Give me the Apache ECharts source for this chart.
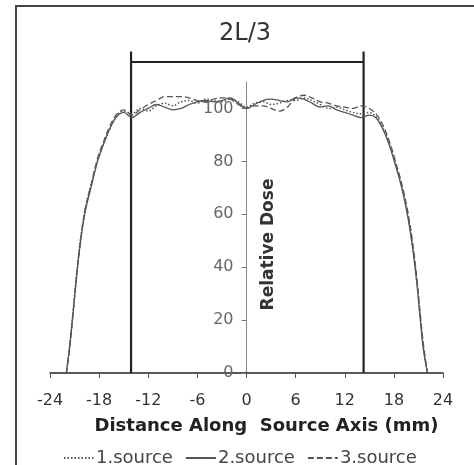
<!DOCTYPE html>
<html>
<head>
<meta charset="utf-8">
<script src="https://cdn.jsdelivr.net/npm/echarts@6/dist/echarts.min.js"></script>
<style>
  html, body { margin: 0; padding: 0; background: #fff; }
  #root { width: 474px; height: 465px; }
</style>
</head>
<body>
<div id="root"></div>
<script>
// distance along source axis (mm)
const positions = [-22, -21.6, -21.2, -20.8, -20.3, -19.7, -19, -18.2, -17.4, -16.6, -15.8, -15,
  -14, -13, -12, -11, -10, -9, -8, -7, -6, -5, -4, -3, -2, -1, 0,
  1, 2, 3, 4, 5, 6, 7, 8, 9, 10, 11, 12, 13, 14,
  15, 15.8, 16.6, 17.4, 18.2, 19, 19.7, 20.3, 20.8, 21.2, 21.6, 22.1]

// relative dose, one list per source
const source1 = [0, 10, 23, 36, 50, 62, 71, 80, 87, 93, 97.5, 99,
  98, 100, 99, 101, 102, 101, 102.5, 103, 102, 103.5, 103, 102.5, 103.5, 102.5, 100.5,
  102, 102.5, 101.5, 102, 103, 103, 104, 103, 101.5, 100, 100.5, 99.5, 98.5, 98,
  98.5, 97, 93, 87, 79, 70, 60, 48, 35, 22, 10, 0]
const source2 = [0, 10, 22, 35, 49, 61, 70, 80, 87, 93, 97, 98.5,
  96.5, 98.5, 100, 101.5, 100.5, 99.5, 100, 101.5, 102.5, 103, 102.5, 103, 104, 102, 100,
  101.5, 103, 103.5, 103, 102.5, 104, 103.5, 102, 100.5, 101, 99.5, 98.5, 97.5, 96.5,
  97.5, 96.5, 92.5, 86.5, 78.5, 69.5, 59, 47, 34, 21, 9, 0]
const source3 = [0, 9, 22, 35, 49, 62, 71, 81, 88, 94, 98, 99.5,
  97.5, 99.5, 101.5, 103, 104.5, 104.5, 104.5, 104, 103, 102.5, 103.5, 104, 103.5, 101.5, 100,
  101, 101, 100, 99, 100.5, 104, 105, 104, 102.5, 102, 101, 100.5, 100, 101,
  100, 98, 94, 88, 80, 71, 61, 49, 36, 23, 11, 0]

const seriesNames = ['1.source', '2.source', '3.source']
const xTicks = [-24, -18, -12, -6, 0, 6, 12, 18, 24]
const yTicks = [0, 20, 40, 60, 80, 100]

// 2L/3 bracket
const bracketX = [-14.1, 14.3]
const bracketTop = 121.5
const bracketBar = 117.6

const FONT = 'DejaVu Sans'
const GRID_LEFT = 50
const GRID_RIGHT = 31

function pairs (ys) {
  return positions.map((x, i) => [x, ys[i]])
}

const chart = echarts.init(document.getElementById('root'))

const curveStyles = [
  { type: [1.5, 2], width: 1.5 },
  { type: 'solid', width: 1.3 },
  { type: [6, 3], width: 1.3 }
]

const curves = [source1, source2, source3].map((ys, i) => ({
  name: seriesNames[i],
  type: 'line',
  data: pairs(ys),
  symbol: 'none',
  smooth: 0.35,
  lineStyle: Object.assign({ color: '#555' }, curveStyles[i]),
  itemStyle: { color: '#555' },
  z: 3
}))

const bracketLine = (data, width) => ({
  type: 'line',
  data: data,
  symbol: 'none',
  clip: false,
  silent: true,
  lineStyle: { color: '#222', width: width },
  z: 2
})

// pixel shift that puts the y axis on x = 0
const plotWidth = 474 - GRID_LEFT - GRID_RIGHT
const yAxisShift = plotWidth / 2

const option = {
  animation: false,
  title: {
    text: '2L/3',
    left: 240,
    textAlign: 'center',
    top: 17,
    textStyle: { fontFamily: FONT, fontSize: 24, fontWeight: 'normal', color: '#333' }
  },
  legend: {
    data: seriesNames,
    left: 58,
    top: 444,
    itemWidth: 30,
    itemHeight: 12,
    itemGap: 12,
    itemStyle: { opacity: 0 },
    textStyle: { fontFamily: FONT, fontSize: 18, color: '#444', padding: [0, 0, 0, -3] }
  },
  grid: { left: GRID_LEFT, right: GRID_RIGHT, top: 82, bottom: 92, outerBoundsMode: 'none', containLabel: false },
  xAxis: {
    type: 'value',
    min: -24,
    max: 24,
    interval: 6,
    splitLine: { show: false },
    axisLine: { onZero: false, lineStyle: { color: '#222', width: 1.5 } },
    axisTick: { show: true, length: 5, lineStyle: { color: '#555' } },
    axisLabel: {
      margin: 20,
      fontFamily: FONT,
      fontSize: 16,
      color: '#333',
      formatter: v => xTicks.includes(v) ? String(v) : ''
    },
    name: 'Distance Along  Source Axis (mm)',
    nameLocation: 'middle',
    nameGap: 44,
    nameMoveOverlap: false,
    nameTextStyle: { fontFamily: FONT, fontSize: 18, fontWeight: 'bold', color: '#222', padding: [0, 0, 0, 40] }
  },
  yAxis: {
    type: 'value',
    min: 0,
    max: 110,
    interval: 20,
    offset: -yAxisShift,
    splitLine: { show: false },
    axisLine: { onZero: false, lineStyle: { color: '#888', width: 1 } },
    axisTick: { show: true, length: 5, customValues: yTicks, lineStyle: { color: '#777' } },
    axisLabel: {
      margin: 13,
      customValues: yTicks,
      fontFamily: FONT,
      fontSize: 16,
      color: '#666'
    },
    name: 'Relative Dose',
    nameLocation: 'middle',
    nameRotate: 90,
    nameGap: -31,
    nameMoveOverlap: false,
    nameTextStyle: { fontFamily: FONT, fontSize: 17, fontWeight: 'bold', color: '#333', padding: [0, 34, 0, 0] }
  },
  graphic: [{
    type: 'rect',
    shape: { x: 16, y: 6, width: 520, height: 520 },
    style: { fill: 'none', stroke: '#444', lineWidth: 2 },
    silent: true
  }],
  series: [
    bracketLine([[bracketX[0], 0], [bracketX[0], bracketTop]], 2.2),
    bracketLine([[bracketX[1], 0], [bracketX[1], bracketTop]], 2.2),
    bracketLine([[bracketX[0], bracketBar], [bracketX[1], bracketBar]], 2),
    ...curves
  ]
}

chart.setOption(option)
</script>
</body>
</html>
